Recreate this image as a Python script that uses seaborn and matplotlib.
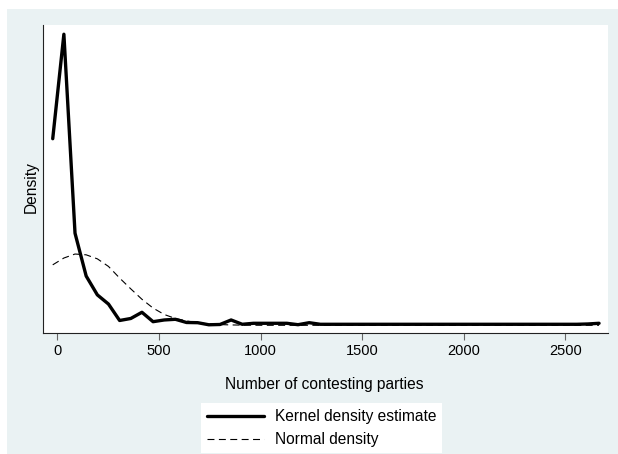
import numpy as np
import pandas as pd
import matplotlib
matplotlib.use("Agg")
import matplotlib.pyplot as plt
import seaborn as sns
from matplotlib.lines import Line2D
from matplotlib.patches import Rectangle

# evaluation points (number of contesting parties)
x_points = [-22.6, 32.3, 87.1, 142.0, 196.9, 251.8, 306.6, 361.5, 416.4, 471.2,
            526.1, 581.0, 635.8, 690.7, 745.6, 800.4, 855.3, 910.2, 965.0, 1019.9,
            1074.8, 1129.7, 1184.5, 1239.4, 1294.3, 1349.1, 1404.0, 1458.9, 1513.7, 1568.6,
            1623.5, 1678.3, 1733.2, 1788.1, 1843.0, 1897.8, 1952.7, 2007.6, 2062.4, 2117.3,
            2172.2, 2227.0, 2281.9, 2336.8, 2391.6, 2446.5, 2501.4, 2556.3, 2611.1, 2666.0]

# kernel density estimate
kde_density = [0.00466, 0.00727, 0.00230, 0.00123, 0.00076, 0.00053, 0.00012, 0.00017, 0.000325, 0.00009,
               0.000133, 0.00015, 0.00007, 0.000065, 0.000013, 0.00002, 0.000133, 0.000025, 0.00005, 0.00005,
               0.00005, 0.00005, 0.000015, 0.000065, 0.000025, 0.000025, 0.000025, 0.000025, 0.000025, 0.000025,
               0.000025, 0.000025, 0.000025, 0.000025, 0.000025, 0.000025, 0.000025, 0.000025, 0.000025, 0.000025,
               0.000025, 0.000025, 0.000025, 0.000025, 0.000025, 0.000025, 0.000025, 0.000025, 0.000033, 0.00005]

# normal density overlay
normal_density = [0.00151, 0.00168, 0.00178, 0.00176, 0.00166, 0.00147, 0.00118, 0.00091, 0.00065, 0.00043,
                  0.00027, 0.00017, 0.00011, 0.00006, 0.000035, 0.000018, 0.000009, 0.000004, 0.0000015, 0.0,
                  0.0, 0.0, 0.0, 0.0, 0.0, 0.0, 0.0, 0.0, 0.0, 0.0,
                  0.0, 0.0, 0.0, 0.0, 0.0, 0.0, 0.0, 0.0, 0.0, 0.0,
                  0.0, 0.0, 0.0, 0.0, 0.0, 0.0, 0.0, 0.0, 0.0, 0.0]

x_ticks = [0, 500, 1000, 1500, 2000, 2500]
series_labels = ["Kernel density estimate", "Normal density"]

sns.set_theme(style="white")
plt.rcParams['font.family'] = ['Liberation Sans', 'DejaVu Sans']
plt.rcParams['lines.scale_dashes'] = False
plt.rcParams['text.color'] = 'black'
plt.rcParams['axes.labelcolor'] = 'black'
plt.rcParams['xtick.color'] = 'black'

bg = '#EAF2F3'
fig = plt.figure(figsize=(6.18, 4.54), dpi=100, facecolor='white')
fig.patches.append(Rectangle((7 / 618, 0), 1, 1 - 9 / 454, transform=fig.transFigure,
                             facecolor=bg, edgecolor='none', zorder=-5))

ax = fig.add_axes([43.3 / 618, 1 - 333.3 / 454, (608 - 43.3) / 618, (333.3 - 25) / 454])
ax.set_zorder(2)
ax.set_facecolor('white')

df = pd.DataFrame({'x': x_points, 'kde': kde_density, 'normal': normal_density})
sns.lineplot(data=df, x='x', y='normal', ax=ax, color='black', linewidth=0.8,
             dashes=False, linestyle=(0, (5, 3.2)), sort=False)
sns.lineplot(data=df, x='x', y='kde', ax=ax, color='black', linewidth=2.4, sort=False)

ax.set_xlim(-69, 2710)
ax.set_ylim(-0.0002, 0.0075)
ax.set_xticks(x_ticks)
ax.set_yticks([])
ax.tick_params(axis='x', direction='out', length=5, width=0.8, color='#666666',
               labelsize=10.5, pad=3, bottom=True, labelcolor='black')

for s in ['top', 'right']:
    ax.spines[s].set_visible(False)
for s in ['left', 'bottom']:
    ax.spines[s].set_color('#222222')
    ax.spines[s].set_linewidth(0.8)

ax.set_xlabel("Number of contesting parties", fontsize=11.2)
ax.set_ylabel("Density", fontsize=11.2)
ax.xaxis.set_label_coords(0.497, -0.1667)
ax.xaxis.label.set_va('center')
ax.yaxis.set_label_coords(-0.0218, 0.475)
ax.yaxis.label.set_va('center')

handles = [Line2D([], [], color='black', linewidth=2.4),
           Line2D([], [], color='black', linewidth=0.8, linestyle=(0, (5, 3.2)))]
leg = fig.legend(handles, series_labels, loc='upper center',
                 bbox_to_anchor=(321.5 / 618, 1 - 403 / 454), frameon=True, fontsize=11.2,
                 handlelength=3.65, handletextpad=0.69, borderpad=0.4, labelspacing=0.5,
                 fancybox=False, borderaxespad=0, framealpha=1)
leg.get_frame().set_facecolor('white')
leg.get_frame().set_edgecolor('none')

fig.savefig('out.png', dpi=100, facecolor='white')
